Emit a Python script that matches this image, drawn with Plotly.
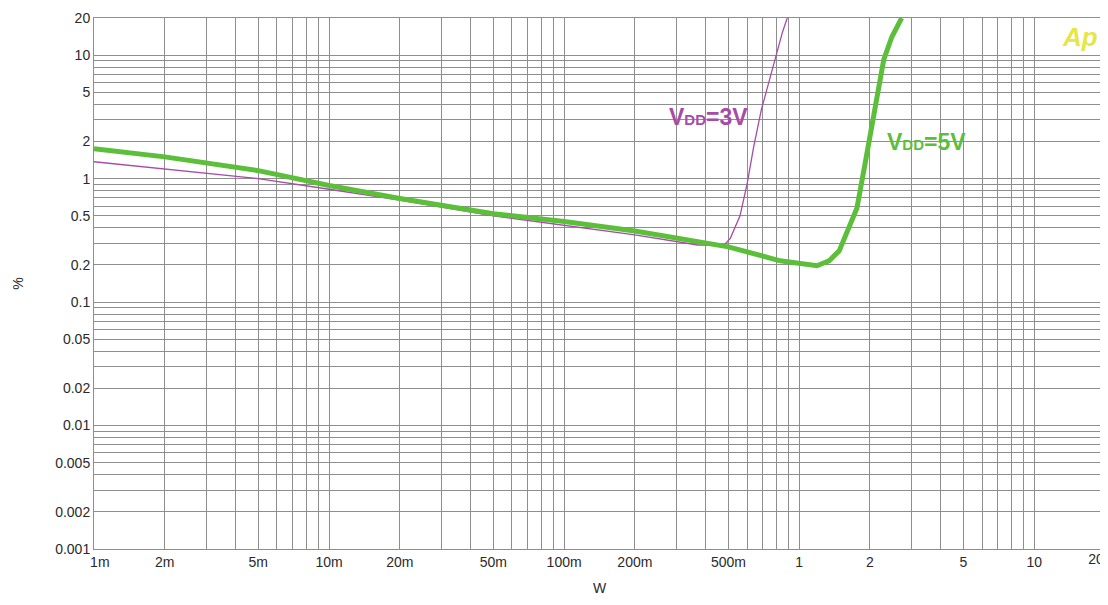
import numpy as np
import plotly.graph_objects as go

# ---- data ----
x_5v = [0.001, 0.002, 0.005, 0.01, 0.02, 0.05, 0.1, 0.2, 0.5, 0.83, 1.19, 1.34, 1.48, 1.60, 1.76, 1.90, 2.04, 2.14, 2.29, 2.48, 2.73]
y_5v = [1.75, 1.50, 1.16, 0.88, 0.69, 0.52, 0.45, 0.377, 0.28, 0.216, 0.197, 0.216, 0.26, 0.38, 0.575, 1.27, 2.67, 5.0, 9.2, 14.1, 20.0]

x_3v = [0.001, 0.002, 0.005, 0.01, 0.02, 0.05, 0.1, 0.2, 0.37, 0.48, 0.51, 0.56, 0.60, 0.64, 0.69, 0.75, 0.80, 0.85, 0.89]
y_3v = [1.37, 1.20, 1.00, 0.82, 0.67, 0.50, 0.42, 0.35, 0.29, 0.29, 0.33, 0.50, 0.90, 1.8, 3.6, 6.5, 10.5, 15.5, 20.0]

x_tickvals = [0.001, 0.002, 0.005, 0.01, 0.02, 0.05, 0.1, 0.2, 0.5, 1, 2, 5, 10]
x_ticktext = ["\u00a0\u00a0\u00a01m", "2m", "5m", "10m", "20m", "50m", "100m", "200m", "500m", "1", "2", "5", "10"]
x_last_tickval = [20]
x_last_ticktext = ["20"]
y_tickvals = [0.001, 0.002, 0.005, 0.01, 0.02, 0.05, 0.1, 0.2, 0.5, 1, 2, 5, 10, 20]
y_ticktext = ["0.001", "0.002", "0.005", "0.01", "0.02", "0.05", "0.1", "0.2", "0.5", "1", "2", "5", "10", "20"]

minor_x = [m * 10.0 ** e for e in range(-3, 2) for m in range(1, 10)]
minor_y = [m * 10.0 ** e for e in range(-3, 2) for m in range(1, 10)]

GREEN = "#5cbf3a"
PURPLE = "#a64ca8"
GRID = "#8e8e8e"
TXT = "#2a2a2a"
FONT = "Liberation Sans, Arial, sans-serif"

fig = go.Figure()
fig.add_trace(go.Scatter(x=x_3v, y=y_3v, mode="lines",
                         line=dict(color=PURPLE, width=1.3), showlegend=False))
fig.add_trace(go.Scatter(x=x_5v, y=y_5v, mode="lines",
                         line=dict(color=GREEN, width=5), showlegend=False))
# empty trace so the overlay axis carrying the last tick label is drawn
fig.add_trace(go.Scatter(x=[], y=[], xaxis="x2", yaxis="y", mode="lines",
                         showlegend=False, hoverinfo="skip"))

axis_common = dict(type="log", showgrid=True, gridcolor=GRID, gridwidth=1,
                   showline=True, linecolor=GRID, linewidth=1, mirror=True,
                   zeroline=False, ticks="", tickmode="array",
                   tickfont=dict(family=FONT, size=14, color=TXT))

fig.update_layout(xaxis=dict(**axis_common, range=[-3, np.log10(20)],
                             tickvals=x_tickvals, ticktext=x_ticktext,
                             minor=dict(tickmode="array", tickvals=minor_x, showgrid=True,
                                        gridcolor=GRID, gridwidth=1, ticks=""),
                             title=dict(text="W", font=dict(family=FONT, size=14, color=TXT), standoff=14)),
                  xaxis2=dict(type="log", overlaying="x", anchor="y", side="bottom",
                              range=[-3, np.log10(20)], showgrid=False, showline=False,
                              zeroline=False, ticks="", tickmode="array",
                              tickvals=x_last_tickval, ticktext=x_last_ticktext,
                              ticklabelshift=-9, ticklabeloverflow="allow",
                              tickfont=dict(family=FONT, size=14, color=TXT)),
                  yaxis=dict(**axis_common, range=[-3, np.log10(20)],
                             tickvals=y_tickvals, ticktext=y_ticktext,
                             minor=dict(tickmode="array", tickvals=minor_y, showgrid=True,
                                        gridcolor=GRID, gridwidth=1, ticks=""),
                             title=dict(text="%", font=dict(family=FONT, size=14, color=TXT), standoff=28)))

fig.add_annotation(x=np.log10(0.41), y=np.log10(3.15), xref="x", yref="y",
                   text="V<span style='font-size:15px'>DD</span>=3V", showarrow=False,
                   font=dict(family=FONT, size=23, color=PURPLE, weight="bold"),
                   xanchor="center", yanchor="middle")
fig.add_annotation(x=np.log10(3.48), y=np.log10(1.99), xref="x", yref="y",
                   text="V<span style='font-size:15px'>DD</span>=5V", showarrow=False,
                   font=dict(family=FONT, size=23, color=GREEN, weight="bold"),
                   xanchor="center", yanchor="middle")
fig.add_annotation(x=1.0, y=0.997, xref="paper", yref="paper", xshift=-5,
                   text="<i><b>Ap</b></i>", showarrow=False,
                   font=dict(family=FONT, size=26, color="#e6e64a"),
                   xanchor="right", yanchor="top")

fig.update_layout(width=1100, height=588,
                  margin=dict(l=86, r=2, t=10, b=42),
                  paper_bgcolor="white", plot_bgcolor="white",
                  font=dict(family=FONT))

fig.write_html("out.html")
